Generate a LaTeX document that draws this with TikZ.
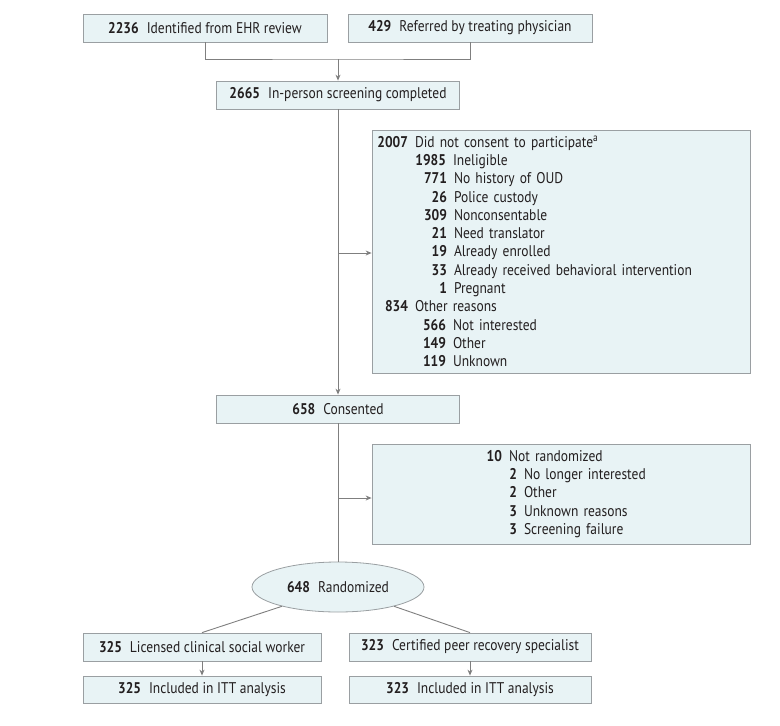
\documentclass[tikz,border=0pt]{standalone}
\usepackage{fontspec}
\setmainfont{PT Sans}[FakeStretch=0.87]
\usepackage{tikz}
\usetikzlibrary{arrows.meta,shapes.geometric}

\definecolor{boxfill}{HTML}{E8F3F5}
\definecolor{boxline}{HTML}{9A9FA2}
\definecolor{linkgray}{HTML}{7F7F7F}
\definecolor{inkblack}{HTML}{231F20}

% number (right edge at indent) followed by its label
\newcommand{\entry}[3]{\hspace*{#1}\makebox[0pt][r]{\bfseries #2}\hspace{7pt}#3}
\newcommand{\nm}[1]{{\bfseries #1}\hspace{8pt}}

\tikzset{
  flowbox/.style={rectangle, draw=boxline, fill=boxfill, line width=0.8pt,
    minimum height=28pt, inner sep=0pt, text=inkblack},
  listbox/.style={flowbox, align=left, inner xsep=6pt, text width=366pt},
  link/.style={draw=linkgray, line width=0.9pt},
  arrowlink/.style={link, -{Stealth[length=6pt,width=5pt]}}
}

\begin{document}
\begin{tikzpicture}[x=1pt, y=-1pt, font={\fontsize{15.5}{18.3}\selectfont}]
  \useasboundingbox (0,0) rectangle (780,726);

  % sources
  \node[flowbox, minimum width=244pt] (ehr) at (205,28) {\nm{2236}Identified from EHR review};
  \node[flowbox, minimum width=244pt] (ref) at (470,28) {\nm{429}Referred by treating physician};
  \coordinate (merge) at (338,59);
  \draw[link] (ehr.south) |- (merge) -| (ref.south);

  \node[flowbox, minimum width=243pt] (screen) at (338,95) {\nm{2665}In-person screening completed};
  \draw[arrowlink] (merge) -- (screen);

  % exclusions after screening
  \node[listbox, minimum height=243pt] (excl) at (561,251.5) {%
    \entry{30pt}{2007}{Did not consent to participate\textsuperscript{a}}\\
    \entry{68pt}{1985}{Ineligible}\\
    \entry{69pt}{771}{No history of OUD}\\
    \entry{69pt}{26}{Police custody}\\
    \entry{69pt}{309}{Nonconsentable}\\
    \entry{69pt}{21}{Need translator}\\
    \entry{69pt}{19}{Already enrolled}\\
    \entry{69pt}{33}{Already received behavioral intervention}\\
    \entry{69pt}{1}{Pregnant}\\
    \entry{30pt}{834}{Other reasons}\\
    \entry{68pt}{566}{Not interested}\\
    \entry{68pt}{149}{Other}\\
    \entry{68pt}{119}{Unknown}};

  \node[flowbox, minimum width=243pt] (cons) at (338,409) {\nm{658}Consented};
  \draw[arrowlink] (screen) -- (cons);
  \coordinate (tap1) at (338,253);
  \draw[arrowlink] (tap1) -- (tap1 -| excl.west);

  % not randomized
  \node[listbox, minimum height=100pt] (notrand) at (561,494) {%
    \entry{124pt}{10}{Not randomized}\\
    \entry{139pt}{2}{No longer interested}\\
    \entry{139pt}{2}{Other}\\
    \entry{139pt}{3}{Unknown reasons}\\
    \entry{139pt}{3}{Screening failure}};

  \node[ellipse, draw=boxline, fill=boxfill, line width=0.8pt, text=inkblack,
    inner sep=0pt, minimum width=172pt, minimum height=50pt] (rand) at (338,587) {\nm{648}Randomized};
  \draw[link] (cons) -- (rand);
  \coordinate (tap2) at (338,498);
  \draw[arrowlink] (tap2) -- (tap2 -| notrand.west);

  % arms
  \node[flowbox, minimum width=238pt] (csw) at (202,647) {\nm{325}Licensed clinical social worker};
  \node[flowbox, minimum width=242pt] (cprs) at (470,647) {\nm{323}Certified peer recovery specialist};
  \draw[link] (rand.199) -- (csw.north);
  \draw[link] (rand.341) -- (cprs.north);

  \node[flowbox, minimum width=238pt, minimum height=27pt] (ittl) at (202,689.5) {\nm{325}Included in ITT analysis};
  \node[flowbox, minimum width=242pt, minimum height=27pt] (ittr) at (470,689.5) {\nm{323}Included in ITT analysis};
  \draw[arrowlink] (csw) -- (ittl);
  \draw[arrowlink] (cprs) -- (ittr);
\end{tikzpicture}
\end{document}
